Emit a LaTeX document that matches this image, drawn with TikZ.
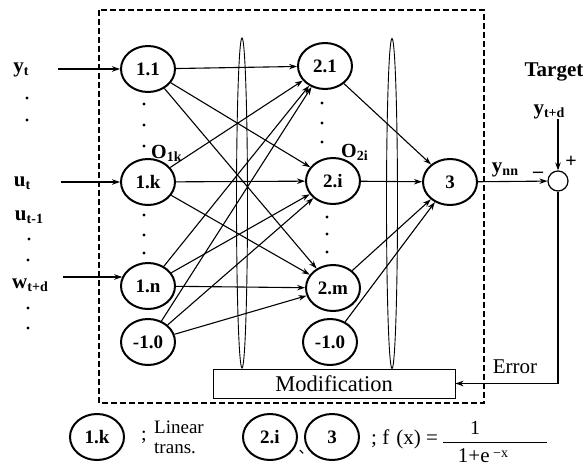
\documentclass[tikz,border=0pt]{standalone}
\usepackage{fontspec}
\setmainfont{Liberation Serif}
\newfontfamily\cjk{Noto Sans CJK JP}
\usetikzlibrary{arrows.meta,shapes.geometric}
\newcommand{\lsub}[1]{\raisebox{-0.35ex}{\fontsize{14}{14}\selectfont #1}}
\begin{document}
\begin{tikzpicture}[x=1pt,y=-1pt,
  neuron/.style={draw,ellipse,line width=2pt,minimum width=54pt,minimum height=46pt,inner sep=0pt,font=\fontsize{19}{19}\selectfont\bfseries},
  conn/.style={line width=1.1pt,-{Stealth[length=8pt,width=5.5pt]}},
  lbl/.style={inner sep=0pt,font=\fontsize{21}{21}\selectfont\bfseries},
  txt/.style={inner sep=0pt,font=\fontsize{20}{20}\selectfont},
  lens/.style={line width=0.9pt}]
\useasboundingbox (0,0) rectangle (583,466);
\draw[line width=1.2pt,dash pattern=on 6pt off 3pt] (99,10) rectangle (484,403);
% neurons
\node[neuron] (n11) at (148,69) {1.1};
\node[neuron] (n1k) at (148,182) {1.k};
\node[neuron] (n1n) at (148,286) {1.n};
\node[neuron] (b1) at (148,342) {-1.0};
\node[neuron] (n21) at (325,66) {2.1};
\node[neuron] (n2i) at (333,181) {2.i};
\node[neuron] (n2m) at (333,288) {2.m};
\node[neuron] (b2) at (330,342) {-1.0};
\node[neuron] (n3) at (450,182) {3};
% lenses
\draw[lens] (242,203) ellipse [x radius=5.5pt, y radius=165pt];
\draw[lens] (392,203.5) ellipse [x radius=5.5pt, y radius=165pt];
% connections layer 1 -> 2
\foreach \s in {n11,n1k,n1n,b1}{
  \foreach \t in {n21,n2i,n2m}{
    \draw[conn] (\s) -- (\t);
  }
}
\foreach \s in {n21,n2i,n2m,b2}{
  \draw[conn] (\s) -- (n3);
}
% dots
\foreach \p in {(144,104),(144,125),(144,146),(144,215),(144,235),(144,253),
                (322,103),(322,123),(322,142),(327,217),(327,234),(327,252),
                (27,98),(27,120),(29,239),(28,260),(28,308),(28,328)}{
  \fill \p circle (1.6pt);
}
\node[txt,anchor=west,font=\fontsize{20}{20}\selectfont\bfseries] (o1k) at (151,153) {O\lsub{1k}};
\node[txt,anchor=west,font=\fontsize{20}{20}\selectfont\bfseries] (o2i) at (341,152) {O\lsub{2i}};
% inputs
\node[lbl] (ly) at (21,70) {y\lsub{t}};
\node[lbl] (lu) at (22,183) {u\lsub{t}};
\node[lbl] (lu1) at (29,217) {u\lsub{t-1}};
\node[lbl] (lw) at (30,285) {w\lsub{t+d}};
\coordinate (iy) at (58,69);
\coordinate (iu) at (61,182);
\coordinate (iw) at (63,277);
\draw[conn] (iy) -- (n11);
\draw[conn] (iu) -- (n1k);
\draw[conn] (iw) -- (iw -| n1n.160);
% output side
\node[circle,draw,line width=1.2pt,minimum size=20pt,inner sep=0pt] (sum) at (558,181) {};
\node[lbl] (target) at (554,72) {Target};
\node[lbl] (ytd) at (549,112) {y\lsub{t+d}};
\node[lbl] (ynn) at (505,170) {y\lsub{nn}};
\node[txt] (minus) at (538,175) {\bfseries --};
\node[txt] (plus) at (571,162) {\bfseries +};
\draw[conn] (n3) -- (sum);
\draw[conn] (ytd.south -| sum) -- (sum);
% modification
\node[draw,line width=0.9pt,minimum width=242pt,minimum height=29pt,inner sep=0pt,font=\fontsize{22.5}{22.5}\selectfont] (mod) at (334,383.5) {Modification};
\draw[conn] (sum) |- (mod);
\node[txt,font=\fontsize{21}{21}\selectfont] (err) at (515,367) {Error};
% legend
\node[neuron] (l1) at (97,437) {1.k};
\node[txt] (sc1) at (144,437) {;};
\node[txt,align=left,font=\fontsize{19}{20}\selectfont] (lin) at (179,437) {Linear\\trans.};
\node[neuron] (l2) at (270,437) {2.i};
\node[neuron] (l3) at (332,437) {3};
\node[inner sep=0pt,font=\cjk\fontsize{15}{15}\selectfont] (cm) at (306,452) {、};
\node[txt,anchor=west,font=\fontsize{21}{21}\selectfont] (fx) at (371,439) {; f\,\,(x) =};
\node[txt] (num) at (475,428) {1};
\draw[line width=0.8pt] (443,442) -- (547,442);
\node[txt,font=\fontsize{21}{21}\selectfont] (den) at (483,456) {1+e\raisebox{0.6ex}{\fontsize{14}{14}\selectfont\ −x}};
\end{tikzpicture}
\end{document}
